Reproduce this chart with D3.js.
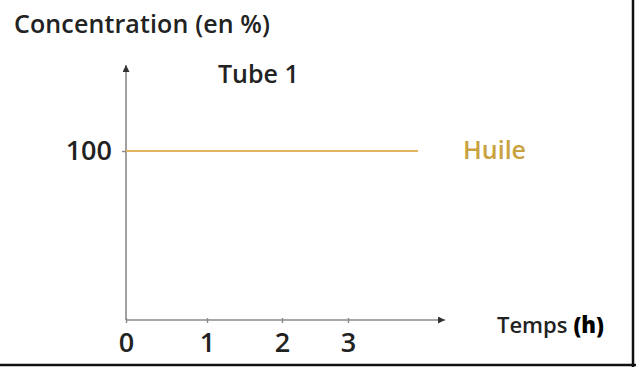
<!DOCTYPE html>
<html><head><meta charset="utf-8">
<script src="https://cdn.jsdelivr.net/npm/d3@7"></script>
<style>body{margin:0;background:#fff}svg{display:block}text{font-family:"Open Sans",sans-serif;font-weight:600;fill:#222}</style>
</head><body>
<svg id="c" width="636" height="367"></svg>
<script>
const hours = [0, 1, 2, 3, 4];
const xTickValues = [0, 1, 2, 3];
const xTickLabels = ["0", "1", "2", "3"];
const yTickValues = [100];
const yTickLabels = ["100"];
const seriesName = "Huile";
const huileValues = [100, 100, 100, 100, 100];
const chartTitle = "Tube 1";
const yTitle = "Concentration (en %)";
const xTitle = "Temps";
const xUnit = "(h)";

const svg = d3.select("#c");
const x = d3.scaleLinear().domain([0, 1, 2, 3, 4]).range([126, 207, 282, 348, 418]);
const y = d3.scaleLinear().domain([0, 100]).range([320, 151]);
const axisColor = "#8a8a8a";

const defs = svg.append("defs");
defs.append("marker").attr("id", "ar").attr("viewBox", "0 0 10 10").attr("refX", 10).attr("refY", 5)
  .attr("markerWidth", 9).attr("markerHeight", 7).attr("markerUnits", "userSpaceOnUse").attr("orient", "auto")
  .append("path").attr("d", "M0,0L10,5L0,10z").attr("fill", "#333");

svg.append("line").attr("x1", x(0)).attr("y1", y(0)).attr("x2", 445).attr("y2", y(0))
  .attr("stroke", axisColor).attr("stroke-width", 1.6).attr("marker-end", "url(#ar)");
svg.append("line").attr("x1", x(0)).attr("y1", y(0)).attr("x2", x(0)).attr("y2", 65)
  .attr("stroke", axisColor).attr("stroke-width", 1.6).attr("marker-end", "url(#ar)");

const xAxis = d3.axisBottom(x).tickValues(xTickValues).tickFormat((d, i) => xTickLabels[i]).tickSize(5).tickPadding(6);
const gx = svg.append("g").attr("transform", `translate(0,${y(0) - 2})`).call(xAxis);
gx.select(".domain").remove();
gx.selectAll(".tick line").attr("stroke", axisColor).attr("stroke-width", 1.4);
gx.selectAll(".tick text").style("font-size", "27px").attr("fill", "#1a1a1a").attr("dy", "0.86em");

const yAxis = d3.axisLeft(y).tickValues(yTickValues).tickFormat((d, i) => yTickLabels[i]).tickSize(4).tickPadding(10);
const gy = svg.append("g").attr("transform", `translate(${x(0)},0)`).call(yAxis);
gy.select(".domain").remove();
gy.selectAll(".tick line").attr("stroke", axisColor).attr("stroke-width", 1.4);
gy.selectAll(".tick text").style("font-size", "27px").attr("fill", "#1a1a1a").attr("dy", "0.3em");

const line = d3.line().x((d, i) => x(hours[i])).y(d => y(d));
svg.append("path").datum(huileValues).attr("d", line).attr("fill", "none")
  .attr("stroke", "#e2b45c").attr("stroke-width", 2.2);

svg.append("text").attr("x", 463).attr("y", y(100) + 8).style("font-size", "25px")
  .style("fill", "#c8a23e").text(seriesName);

svg.append("text").attr("x", 14).attr("y", 33).style("font-size", "25px").attr("textLength", 256).text(yTitle);
svg.append("text").attr("x", 218).attr("y", 83).style("font-size", "25px").text(chartTitle);
svg.append("text").attr("x", 497).attr("y", 333).style("font-size", "22px").text(xTitle);
svg.append("text").attr("x", 604).attr("y", 333).attr("text-anchor", "end").style("font-size", "22px")
  .style("font-weight", 800).style("fill", "#000").text(xUnit);

svg.append("line").attr("x1", 633).attr("x2", 633).attr("y1", 0).attr("y2", 367).attr("stroke", "#111").attr("stroke-width", 2.5);
svg.append("line").attr("x1", 0).attr("x2", 636).attr("y1", 365).attr("y2", 365).attr("stroke", "#111").attr("stroke-width", 2.5);
</script>
</body></html>
